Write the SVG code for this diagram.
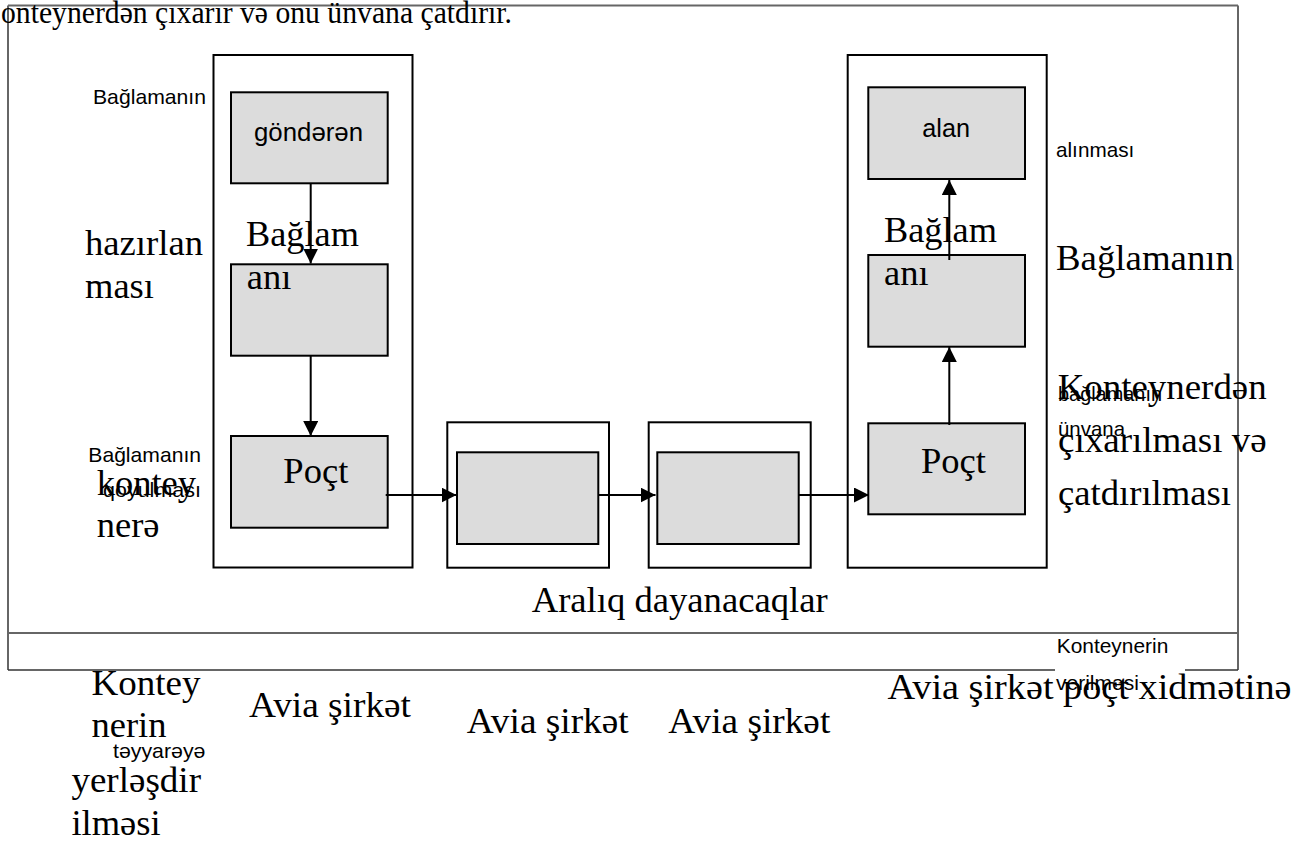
<svg xmlns="http://www.w3.org/2000/svg" width="1296" height="841" viewBox="0 0 1296 841">
<style>
.frame{fill:none;stroke:#333;stroke-width:1.5}
.gline{stroke:#666;stroke-width:2;fill:none}
.outer{fill:#fff;stroke:#000;stroke-width:2}
.inner{fill:#dcdcdc;stroke:#000;stroke-width:2}
.conn{stroke:#000;stroke-width:2;fill:none;marker-end:url(#ah)}
.serif{font-family:"Liberation Serif","Times New Roman",serif;font-size:36.5px;fill:#000}
.top{font-family:"Liberation Serif","Times New Roman",serif;font-size:31px;fill:#000}
.sans{font-family:"Liberation Sans",Arial,sans-serif;font-size:21px;fill:#000}
.lbl{font-family:"Liberation Sans",Arial,sans-serif;font-size:25.5px;fill:#000}
</style>
<defs>
<marker id="ah" viewBox="0 0 10 10" refX="10" refY="5" markerWidth="15" markerHeight="15" markerUnits="userSpaceOnUse" orient="auto">
<path d="M0,0 L10,5 L0,10 Z" fill="#000"/>
</marker>
</defs>
<rect width="1296" height="841" fill="#fff"/>
<g id="frame">
<line x1="8" y1="5.5" x2="8" y2="670" class="frame"/>
<line x1="1238" y1="5.5" x2="1238" y2="670" class="frame"/>
<line x1="8" y1="670" x2="1238" y2="670" class="frame"/>
<line x1="8" y1="5.5" x2="1238" y2="5.5" class="gline"/>
<line x1="8" y1="633" x2="1238" y2="633" class="gline"/>
</g>
<g id="sender-column"><rect x="213.5" y="55" width="199" height="512.5" class="outer"/></g>
<g id="stop1"><rect x="447.3" y="422.3" width="161.7" height="145.4" class="outer"/></g>
<g id="stop2"><rect x="648.7" y="422.3" width="162" height="145.4" class="outer"/></g>
<g id="receiver-column"><rect x="847.7" y="55" width="199" height="512.7" class="outer"/></g>
<g id="node-gonderen"><rect x="231" y="92.3" width="156.7" height="91" class="inner"/></g>
<g id="node-bagl-left"><rect x="231" y="264.3" width="156.7" height="91.4" class="inner"/></g>
<g id="node-poct-left"><rect x="231" y="436" width="156.7" height="91.7" class="inner"/></g>
<g id="node-stop1"><rect x="457" y="452.3" width="141.3" height="91.7" class="inner"/></g>
<g id="node-stop2"><rect x="657.3" y="452.3" width="141.4" height="91.7" class="inner"/></g>
<g id="node-alan"><rect x="868.3" y="87.3" width="156.7" height="91.7" class="inner"/></g>
<g id="node-bagl-right"><rect x="868.3" y="255" width="156.7" height="91.7" class="inner"/></g>
<g id="node-poct-right"><rect x="868.3" y="423.3" width="156.7" height="91" class="inner"/></g>
<g id="connectors">
<line x1="310.7" y1="183.3" x2="310.7" y2="263.5" class="conn"/>
<line x1="310.7" y1="355.7" x2="310.7" y2="436" class="conn"/>
<line x1="385.7" y1="495" x2="456.5" y2="495" class="conn"/>
<line x1="598.3" y1="495" x2="655.5" y2="495" class="conn"/>
<line x1="798.7" y1="495" x2="869" y2="495" class="conn"/>
<line x1="949.3" y1="425" x2="949.3" y2="347" class="conn"/>
<line x1="949.3" y1="260" x2="949.3" y2="180" class="conn"/>
</g>
<rect x="1055" y="637" width="130" height="60" fill="#fff"/>
<g id="labels">
<text x="1" y="23" class="top" textLength="511" lengthAdjust="spacingAndGlyphs">onteynerdən çıxarır və onu ünvana çatdırır.</text>
<text x="93" y="104" class="sans" textLength="113" lengthAdjust="spacingAndGlyphs">Bağlamanın</text>
<text x="85" y="255" class="serif" textLength="118" lengthAdjust="spacingAndGlyphs">hazırlan</text>
<text x="85" y="298.3" class="serif">ması</text>
<text x="88.3" y="461.7" class="sans" textLength="112.7" lengthAdjust="spacingAndGlyphs">Bağlamanın</text>
<text x="96.7" y="495" class="serif">kontey</text>
<text x="103" y="497" class="sans" textLength="98" lengthAdjust="spacingAndGlyphs">qoyulması</text>
<text x="96.7" y="537.3" class="serif">nerə</text>
<text x="254" y="140.7" class="lbl" textLength="109" lengthAdjust="spacingAndGlyphs">göndərən</text>
<text x="246" y="246" class="serif" textLength="113" lengthAdjust="spacingAndGlyphs">Bağlam</text>
<text x="246.7" y="289.3" class="serif">anı</text>
<text x="283.3" y="482.7" class="serif" textLength="65" lengthAdjust="spacingAndGlyphs">Poçt</text>
<text x="922.3" y="136.7" class="lbl" textLength="47.7" lengthAdjust="spacingAndGlyphs">alan</text>
<text x="1056" y="156.7" class="sans" textLength="78.3" lengthAdjust="spacingAndGlyphs">alınması</text>
<text x="884" y="242.3" class="serif" textLength="113" lengthAdjust="spacingAndGlyphs">Bağlam</text>
<text x="884" y="285" class="serif">anı</text>
<text x="1056" y="270" class="serif" textLength="178" lengthAdjust="spacingAndGlyphs">Bağlamanın</text>
<text x="921" y="473.3" class="serif" textLength="65" lengthAdjust="spacingAndGlyphs">Poçt</text>
<text x="1057.7" y="399" class="serif" textLength="209" lengthAdjust="spacingAndGlyphs">Konteynerdən</text>
<text x="1058" y="400.5" class="sans" textLength="104" lengthAdjust="spacingAndGlyphs">bağlamanın</text>
<text x="1058" y="436" class="sans" textLength="67" lengthAdjust="spacingAndGlyphs">ünvana</text>
<text x="1058" y="451.7" class="serif" textLength="208.7" lengthAdjust="spacingAndGlyphs">çıxarılması və</text>
<text x="1058" y="505" class="serif" textLength="173" lengthAdjust="spacingAndGlyphs">çatdırılması</text>
<text x="531.7" y="612" class="serif" textLength="296" lengthAdjust="spacingAndGlyphs">Aralıq dayanacaqlar</text>
<text x="1056.7" y="653.3" class="sans" textLength="111.6" lengthAdjust="spacingAndGlyphs">Konteynerin</text>
<text x="1056" y="690" class="sans">verilməsi</text>
<text x="91.5" y="695" class="serif" textLength="109" lengthAdjust="spacingAndGlyphs">Kontey</text>
<text x="91.5" y="736.7" class="serif">nerin</text>
<text x="113" y="757.7" class="sans" textLength="92.4" lengthAdjust="spacingAndGlyphs">təyyarəyə</text>
<text x="71.4" y="791.7" class="serif" textLength="129.6" lengthAdjust="spacingAndGlyphs">yerləşdir</text>
<text x="71.4" y="835" class="serif">ilməsi</text>
<text x="249" y="717.3" class="serif" textLength="162" lengthAdjust="spacingAndGlyphs">Avia şirkət</text>
<text x="466.7" y="733.3" class="serif" textLength="162" lengthAdjust="spacingAndGlyphs">Avia şirkət</text>
<text x="668.3" y="733.3" class="serif" textLength="162" lengthAdjust="spacingAndGlyphs">Avia şirkət</text>
<text x="887.5" y="699" class="serif" textLength="404" lengthAdjust="spacingAndGlyphs">Avia şirkət poçt xidmətinə</text>
</g>
</svg>
